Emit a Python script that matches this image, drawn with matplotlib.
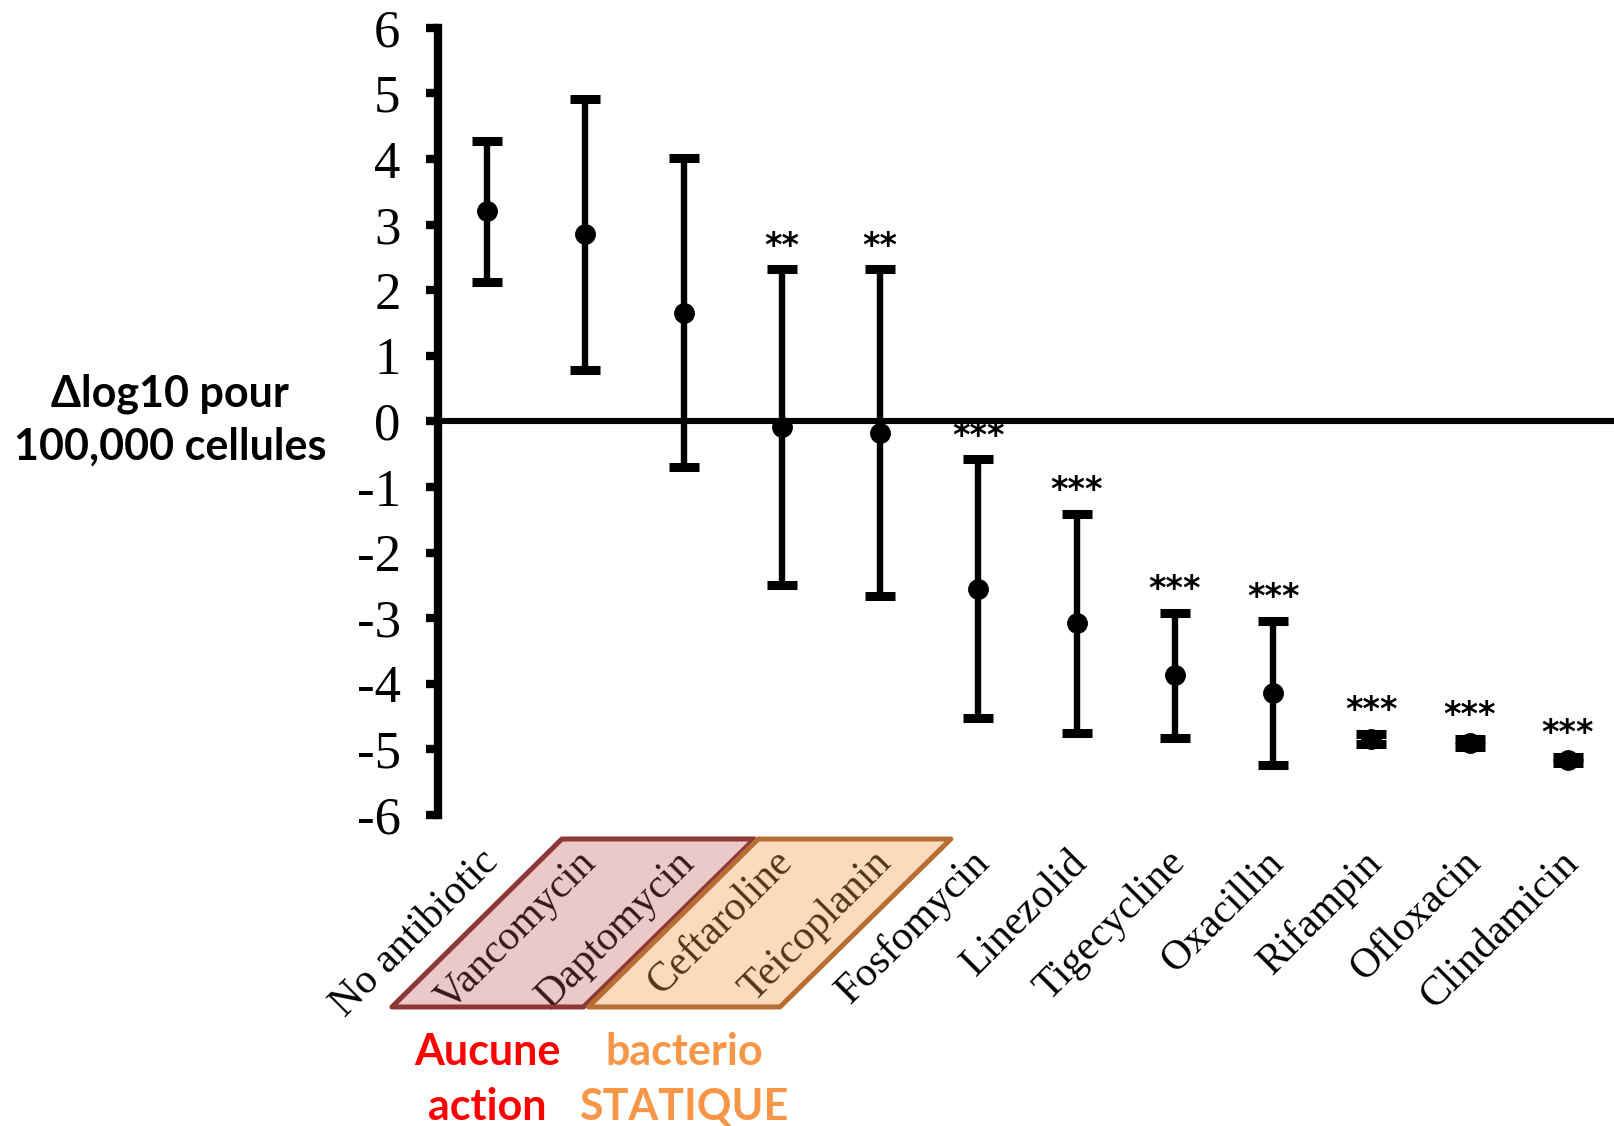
import matplotlib
matplotlib.use("Agg")
import matplotlib.pyplot as plt
import matplotlib.transforms as mtransforms
from matplotlib.patches import Polygon

plt.rcParams["axes.unicode_minus"] = False

# data
drugs = ["No antibiotic", "Vancomycin", "Daptomycin", "Ceftaroline", "Teicoplanin",
         "Fosfomycin", "Linezolid", "Tigecycline", "Oxacillin", "Rifampin",
         "Ofloxacin", "Clindamicin"]
means = [3.20, 2.85, 1.66, -0.09, -0.17, -2.55, -3.08, -3.87, -4.14, -4.84, -4.90, -5.16]
sds = [1.07, 2.07, 2.35, 2.41, 2.49, 1.97, 1.67, 0.95, 1.10, 0.08, 0.06, 0.05]
stars = ["", "", "", "**", "**", "***", "***", "***", "***", "***", "***", "***"]
yticks = list(range(-6, 7))

# groups highlighted under the x axis: (first index, last index, label, edge, fill, text colour)
groups = [
    (1, 2, "Aucune\naction", "#8C3836", (0.75, 0.31, 0.30, 0.30), "#FF0000"),
    (3, 4, "bacterio\nSTATIQUE", "#B86E33", (0.97, 0.59, 0.27, 0.35), "#F79646"),
]

fig = plt.figure(figsize=(16.14, 11.26), dpi=100)
ax = fig.add_axes([0.2714, 0.2762, 0.7286, 0.6991])

x = list(range(len(drugs)))
ax.errorbar(x, means, yerr=sds, fmt="o", color="black", ms=14,
            elinewidth=4.6, capsize=11, capthick=6.5, zorder=4)

for xi, m, s, st in zip(x, means, sds, stars):
    if st:
        ax.text(xi, m + s + 0.1, st, ha="center", va="bottom",
                fontsize=24, fontweight="bold", family="DejaVu Sans", color="black")

ax.axhline(0, color="black", lw=4.4, zorder=2)

ax.set_xlim(-0.5, 11.47)
ax.set_ylim(-6, 6)
ax.set_yticks(yticks)
ax.set_yticklabels([str(v) for v in yticks], family="Liberation Serif", fontsize=38)
ax.tick_params(axis="y", length=9, width=6, pad=18, direction="out")
ax.set_xticks(x)
ax.set_xticklabels(drugs, rotation=45, ha="right", va="center",
                   rotation_mode="anchor", family="Liberation Serif", fontsize=30)
ax.tick_params(axis="x", length=0, pad=30)
shift = mtransforms.ScaledTranslation(5 / 100, 0, fig.dpi_scale_trans)
for lab in ax.get_xticklabels():
    lab.set_transform(lab.get_transform() + shift)

for side in ["top", "right", "bottom"]:
    ax.spines[side].set_visible(False)
ax.spines["left"].set_linewidth(6)

# parallelograms round the grouped labels (x in data units, y in figure fraction)
blend = mtransforms.blended_transform_factory(ax.transData, fig.transFigure)
y_top, y_bot = 0.2549, 0.1057
for i0, i1, label, edge, fill, tcolor in groups:
    bl, br = i0 - 1.97, i1 - 1.02
    tl, tr = i0 - 0.24, i1 + 0.72
    poly = Polygon([(bl, y_bot), (br, y_bot), (tr, y_top), (tl, y_top)],
                   closed=True, transform=blend, facecolor=fill, edgecolor=edge,
                   lw=3.6, joinstyle="round", zorder=5, clip_on=False)
    fig.add_artist(poly)
    fig.text((bl + br) / 2, 0.0415, label, transform=blend, ha="center",
             va="center", color=tcolor, fontsize=31, fontweight="bold",
             family=["Lato", "DejaVu Sans"], linespacing=1.45)

fig.text(0.1053, 0.627, "Δlog10 pour\n100,000 cellules", ha="center", va="center",
         fontsize=31, fontweight="bold", family=["Lato", "DejaVu Sans"],
         linespacing=1.38)

fig.savefig("out.png", dpi=100)
